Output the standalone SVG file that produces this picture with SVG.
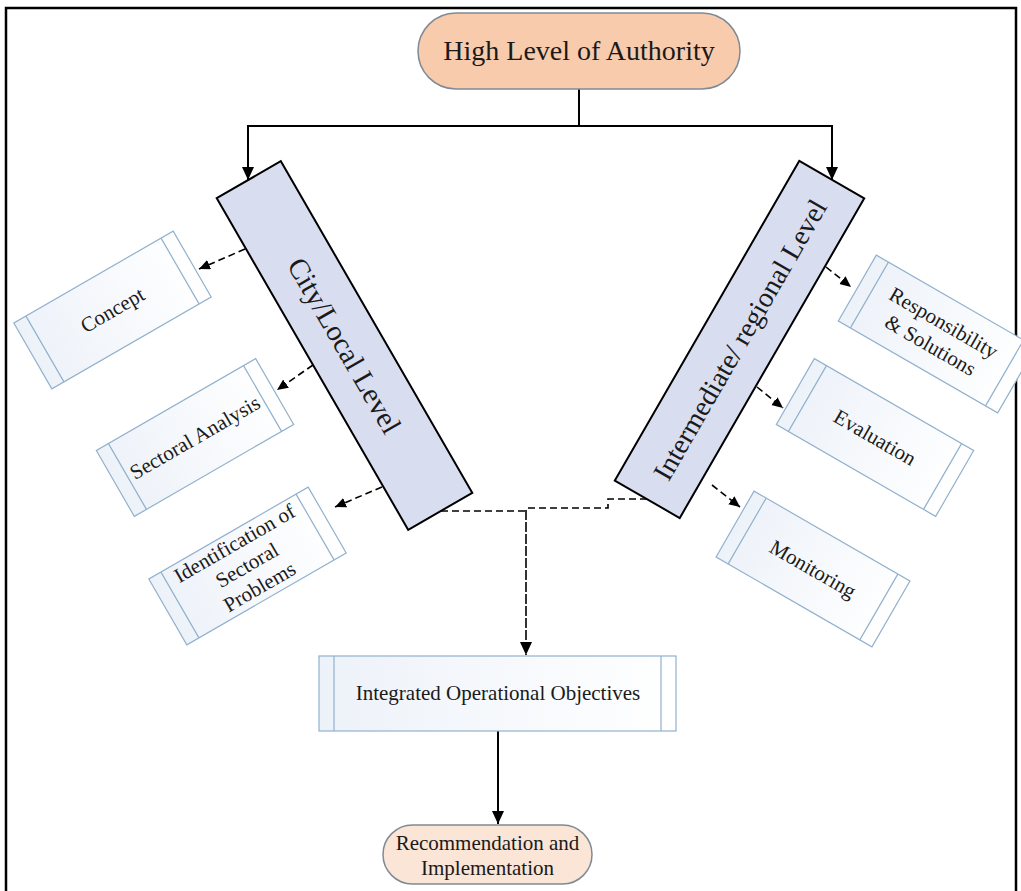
<svg xmlns="http://www.w3.org/2000/svg" width="1021" height="891" viewBox="0 0 1021 891">
<defs>
<style>
.frame{fill:#ffffff;stroke:#000;stroke-width:2.5}
.pill{fill:#F8CBAD;stroke:#7F8A96;stroke-width:1.5}
.pill2{fill:#FBE5D6;stroke:#7F8A96;stroke-width:1.5}
.lvl{fill:#D8DDF0;stroke:#000;stroke-width:2}
.sub{fill:url(#subg);stroke:#92B1CE;stroke-width:1.2}
.bar{stroke:#92B1CE;stroke-width:1.2;fill:none}
.t{font-family:"Liberation Serif","Times New Roman",serif;fill:#1a1a1a;text-anchor:middle}
.solid{fill:none;stroke:#000;stroke-width:2}
.dash{fill:none;stroke:#000;stroke-width:1.6;stroke-dasharray:7 4}
</style>
<linearGradient id="subg" x1="0" y1="0" x2="1" y2="0">
<stop offset="0" stop-color="#EDF2F9"/>
<stop offset="1" stop-color="#FFFFFF"/>
</linearGradient>
<marker id="ah" markerUnits="userSpaceOnUse" markerWidth="14" markerHeight="14" refX="13" refY="6" orient="auto">
<path d="M0,0 L13,6 L0,12 z" fill="#000"/>
</marker>
<marker id="ahs" markerUnits="userSpaceOnUse" markerWidth="12" markerHeight="12" refX="11" refY="5" orient="auto">
<path d="M0,0 L11,5 L0,10 z" fill="#000"/>
</marker>
</defs>
<rect class="frame" x="6" y="8" width="1010" height="900"/>

<g id="connectors">
<path class="solid" d="M579,89 V126 H248 V180" marker-end="url(#ah)"/>
<path class="solid" d="M579,126 H832 V180" marker-end="url(#ah)"/>
<path class="dash" d="M245,249 L199,269" marker-end="url(#ahs)"/>
<path class="dash" d="M313,365 L277,390" marker-end="url(#ahs)"/>
<path class="dash" d="M382,487 L335,507" marker-end="url(#ahs)"/>
<path class="dash" d="M826,267 L851,287" marker-end="url(#ahs)"/>
<path class="dash" d="M757,387 L783,408" marker-end="url(#ahs)"/>
<path class="dash" d="M712,485 L740,507" marker-end="url(#ahs)"/>
<path class="dash" d="M441,511 H526"/>
<path class="dash" d="M647,499 H608 V508 H526"/>
<path class="solid" style="stroke-width:1.6;stroke-dasharray:10 2" d="M526,510 V655" marker-end="url(#ah)"/>
<path class="solid" d="M498,731 V824" marker-end="url(#ah)"/>
</g>

<g id="high-authority">
<rect class="pill" x="418" y="13" width="322" height="76" rx="38" ry="38"/>
<text class="t" x="579" y="60" font-size="28">High Level of Authority</text>
</g>

<g id="city-local" transform="translate(344.5,345.5) rotate(60)">
<rect class="lvl" x="-191.5" y="-37" width="383" height="74"/>
<text class="t" x="0" y="10" font-size="29">City/Local Level</text>
</g>

<g id="intermediate-regional" transform="translate(739.5,339.5) rotate(-60)">
<rect class="lvl" x="-184.5" y="-37.5" width="369" height="75"/>
<text class="t" x="0" y="10" font-size="28">Intermediate/ regional Level</text>
</g>

<g id="concept" transform="translate(112.5,310) rotate(-30)">
<rect class="sub" x="-92" y="-38" width="184" height="76"/>
<path class="bar" d="M-78,-38 V38 M78,-38 V38"/>
<text class="t" x="0" y="7" font-size="21">Concept</text>
</g>

<g id="sectoral-analysis" transform="translate(195,437.5) rotate(-30)">
<rect class="sub" x="-92" y="-38" width="184" height="76"/>
<path class="bar" d="M-78,-38 V38 M78,-38 V38"/>
<text class="t" x="0" y="7" font-size="21">Sectoral Analysis</text>
</g>

<g id="identification" transform="translate(247.5,566) rotate(-30)">
<rect class="sub" x="-92" y="-38" width="184" height="76"/>
<path class="bar" d="M-78,-38 V38 M78,-38 V38"/>
<text class="t" x="0" y="-19" font-size="21">Identification of</text>
<text class="t" x="0" y="6" font-size="21">Sectoral</text>
<text class="t" x="0" y="31" font-size="21">Problems</text>
</g>

<g id="responsibility" transform="translate(937,334) rotate(30)">
<rect class="sub" x="-92" y="-38" width="184" height="76"/>
<path class="bar" d="M-78,-38 V38 M78,-38 V38"/>
<text class="t" x="0" y="-6" font-size="21">Responsibility</text>
<text class="t" x="0" y="20" font-size="21">&amp; Solutions</text>
</g>

<g id="evaluation" transform="translate(875,437.5) rotate(30)">
<rect class="sub" x="-92" y="-38" width="184" height="76"/>
<path class="bar" d="M-78,-38 V38 M78,-38 V38"/>
<text class="t" x="0" y="7" font-size="21">Evaluation</text>
</g>

<g id="monitoring" transform="translate(813,569) rotate(30)">
<rect class="sub" x="-90" y="-38" width="180" height="76"/>
<path class="bar" d="M-76,-38 V38 M76,-38 V38"/>
<text class="t" x="0" y="7" font-size="21">Monitoring</text>
</g>

<g id="integrated">
<rect class="sub" x="319" y="656" width="357" height="75"/>
<path class="bar" d="M334,656 V731 M661,656 V731"/>
<text class="t" x="498" y="700" font-size="21">Integrated Operational Objectives</text>
</g>

<g id="recommendation">
<rect class="pill2" x="383" y="825" width="209" height="59" rx="29.5" ry="29.5"/>
<text class="t" x="487.5" y="850" font-size="21">Recommendation and</text>
<text class="t" x="487.5" y="875" font-size="21">Implementation</text>
</g>
</svg>
